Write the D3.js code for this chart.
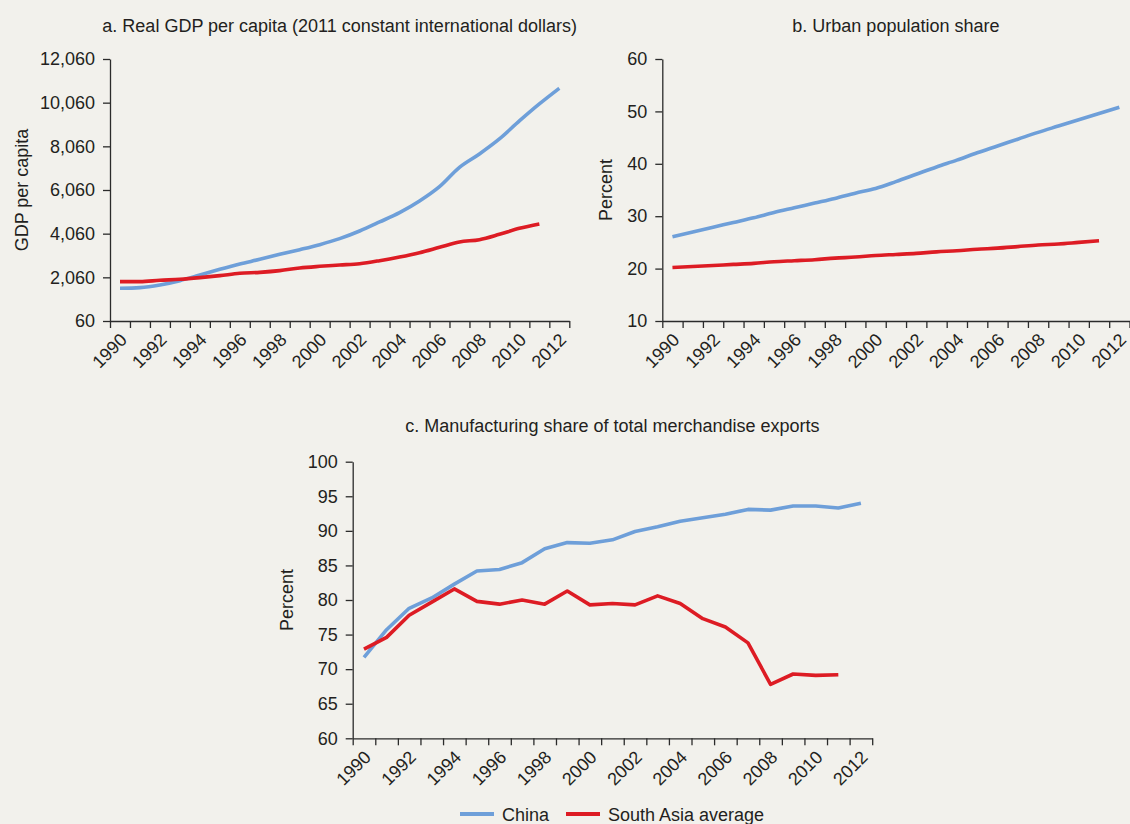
<!DOCTYPE html>
<html>
<head>
	<title></title>
	<script src="https://d3js.org/d3.v7.min.js" charset="utf-8"></script>
	<style type="text/css">
		body {
			margin: 0;
			background: #f2f1ec;
		}
		svg text {
			font-family: 'Liberation Sans', Arial, sans-serif;
			font-size: 18px;
			fill: #231f20;
		}
		.axis path, .axis line {
			stroke: #2b2b2b;
			stroke-width: 1.3px;
		}
		.line {
			fill: none;
			stroke-width: 3.6px;
			stroke-linejoin: round;
		}
	</style>
</head>
<body>
	<script type="text/javascript">
		var w = 1130;
		var h = 824;

		var years = d3.range(1990, 2013);
		var series = ['China', 'South Asia average'];
		var colors = ['#6e9fd9', '#dd1c24'];

		// a. real GDP per capita
		var gdpChina = [1557, 1587, 1709, 1908, 2167, 2427, 2671, 2885, 3114, 3328, 3557, 3832,
			4183, 4595, 5023, 5557, 6214, 7099, 7710, 8397, 9222, 10001, 10718];
		var gdpSouthAsia = [1862, 1862, 1923, 1969, 2045, 2137, 2244, 2289, 2366, 2488, 2564, 2625,
			2686, 2824, 2992, 3190, 3435, 3679, 3786, 4030, 4305, 4504];
		var gdpTicks = [60, 2060, 4060, 6060, 8060, 10060, 12060];

		// b. urban population share
		var urbanChina = [26.1, 27.0, 27.9, 28.8, 29.7, 30.7, 31.6, 32.5, 33.4, 34.4, 35.3, 36.6,
			38.0, 39.4, 40.7, 42.1, 43.4, 44.7, 46.0, 47.2, 48.4, 49.6, 50.8];
		var urbanSouthAsia = [20.2, 20.4, 20.6, 20.8, 21.0, 21.3, 21.5, 21.7, 22.0, 22.2, 22.5, 22.7,
			22.9, 23.2, 23.4, 23.7, 23.9, 24.2, 24.5, 24.7, 25.0, 25.3];
		var urbanTicks = [10, 20, 30, 40, 50, 60];

		// c. manufacturing share of merchandise exports
		var manuChina = [71.7, 75.7, 78.8, 80.3, 82.3, 84.2, 84.4, 85.4, 87.4, 88.3, 88.2, 88.7,
			89.9, 90.6, 91.4, 91.9, 92.4, 93.1, 93.0, 93.6, 93.6, 93.3, 94.0];
		var manuSouthAsia = [72.9, 74.6, 77.8, 79.7, 81.6, 79.8, 79.4, 80.0, 79.4, 81.3, 79.3, 79.5,
			79.3, 80.6, 79.5, 77.3, 76.1, 73.8, 67.8, 69.3, 69.1, 69.2];
		var manuTicks = [60, 65, 70, 75, 80, 85, 90, 95, 100];

		var svg = d3.select('body')
			.append('svg')
			.attr('width', w)
			.attr('height', h);

		drawPanel({
			title: 'a. Real GDP per capita (2011 constant international dollars)',
			ylabel: 'GDP per capita',
			left: 110, right: 569.3, top: 59, bottom: 321,
			titleY: 32, ylabelGap: 82.5,
			domain: [60, 12060], ticks: gdpTicks, format: d3.format(','),
			data: [gdpChina, gdpSouthAsia],
			curve: d3.curveMonotoneX
		});

		drawPanel({
			title: 'b. Urban population share',
			ylabel: 'Percent',
			left: 662.3, right: 1129.5, top: 59, bottom: 321,
			titleY: 32, ylabelGap: 50,
			domain: [10, 60], ticks: urbanTicks, format: d3.format('d'),
			data: [urbanChina, urbanSouthAsia],
			curve: d3.curveMonotoneX
		});

		drawPanel({
			title: 'c. Manufacturing share of total merchandise exports',
			ylabel: 'Percent',
			left: 352.7, right: 872.2, top: 461.7, bottom: 738.3,
			titleY: 432, ylabelGap: 59.5,
			domain: [60, 100], ticks: manuTicks, format: d3.format('d'),
			data: [manuChina, manuSouthAsia],
			curve: d3.curveLinear
		});

		function drawPanel(p) {
			var g = svg.append('g');

			// ticks sit on the year boundaries, points in the middle of each year
			var xEdge = d3.scaleLinear()
				.domain([0, years.length])
				.range([p.left, p.right]);

			var xBand = d3.scaleBand()
				.domain(years)
				.range([p.left, p.right]);

			var y = d3.scaleLinear()
				.domain(p.domain)
				.range([p.bottom, p.top]);

			g.append('g')
				.attr('class', 'axis')
				.attr('transform', 'translate(0,' + p.bottom + ')')
				.call(d3.axisBottom(xEdge)
					.tickValues(d3.range(years.length + 1))
					.tickSize(7)
					.tickSizeOuter(0)
					.tickFormat(''));

			var labels = g.append('g')
				.attr('transform', 'translate(0,' + p.bottom + ')')
				.call(d3.axisBottom(xBand)
					.tickValues(years.filter(function (d) { return d % 2 == 0; }))
					.tickSize(0));
			labels.select('.domain').remove();
			labels.selectAll('text')
				.attr('x', 0)
				.attr('y', 0)
				.attr('dy', null)
				.attr('text-anchor', 'end')
				.attr('transform', 'translate(8,20) rotate(-45)');

			g.append('g')
				.attr('class', 'axis')
				.attr('transform', 'translate(' + p.left + ',0)')
				.call(d3.axisLeft(y)
					.tickValues(p.ticks)
					.tickSize(7)
					.tickSizeOuter(0)
					.tickPadding(8)
					.tickFormat(p.format));

			g.selectAll('.axis text')
				.style('font-size', '18px');

			g.append('text')
				.text(p.title)
				.attr('x', (p.left + p.right) / 2)
				.attr('y', p.titleY)
				.attr('text-anchor', 'middle');

			g.append('text')
				.text(p.ylabel)
				.attr('text-anchor', 'middle')
				.attr('transform', 'translate(' + (p.left - p.ylabelGap) + ',' + ((p.top + p.bottom) / 2) + ') rotate(-90)');

			var line = d3.line()
				.x(function (d, i) { return xBand(years[i]) + xBand.bandwidth() / 2; })
				.y(function (d) { return y(d); })
				.curve(p.curve);

			g.selectAll('.line')
				.data(p.data)
				.enter()
				.append('path')
				.attr('class', 'line')
				.attr('d', line)
				.style('stroke', function (d, i) { return colors[i]; });
		}

		// legend under panel c
		var legend = svg.append('g')
			.selectAll('g')
			.data(series)
			.enter()
			.append('g')
			.attr('transform', function (d, i) {
				return 'translate(' + [460, 566][i] + ',814)';
			});

		legend.append('line')
			.attr('x1', 0)
			.attr('x2', 34)
			.style('stroke', function (d, i) { return colors[i]; })
			.style('stroke-width', '4px');

		legend.append('text')
			.text(function (d) { return d; })
			.attr('x', 42)
			.attr('y', 7);
	</script>
</body>
</html>
